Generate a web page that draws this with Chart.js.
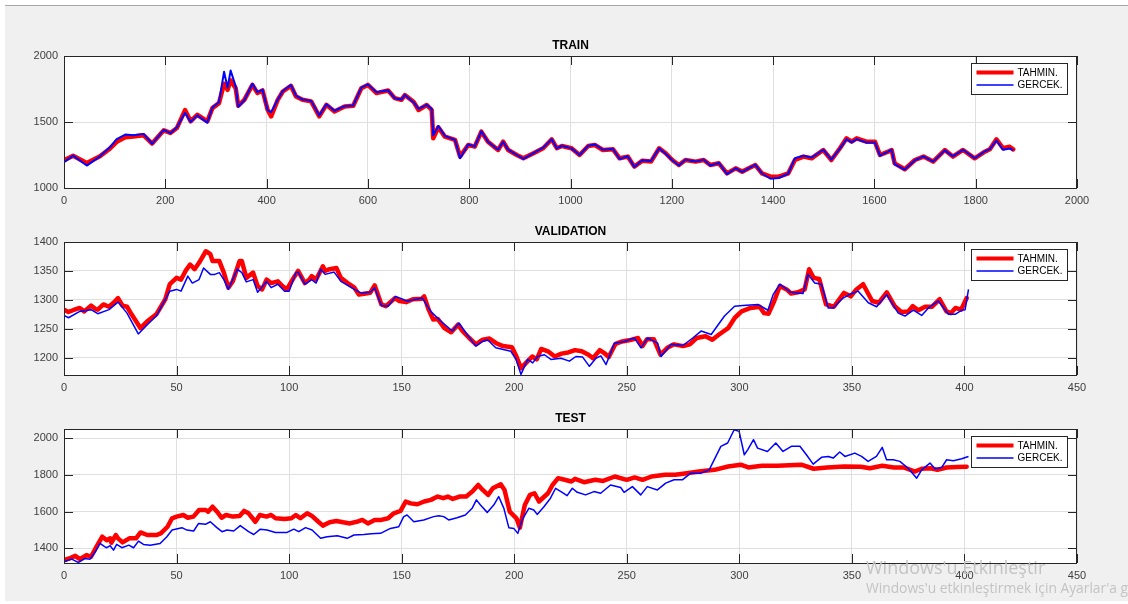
<!DOCTYPE html>
<html>
<head>
<meta charset="utf-8">
<script src="https://cdn.jsdelivr.net/npm/chart.js@4.4.1/dist/chart.umd.min.js"></script>
<style>
  html, body { margin: 0; padding: 0; background: #ffffff; width: 1128px; height: 604px; overflow: hidden; position: relative; font-family: "Liberation Sans", Arial, sans-serif; }
  #fig { position: absolute; left: 5px; top: 5px; width: 1123px; height: 595px; background: #f0f0f0; border-top: 1px solid #a8a8a8; }
  canvas { position: absolute; left: 0; }
  #wm { position: absolute; left: 866px; top: 555px; width: 262px; overflow: hidden; white-space: nowrap; color: #c3c3c3; font-family: "Open Sans", "Noto Sans", sans-serif; }
  #wm .l1 { font-size: 18px; line-height: 24px; }
  #wm .l2 { font-size: 13.8px; line-height: 18px; }
</style>
</head>
<body>
<div id="fig"></div>
<canvas id="cTrain" width="1128" height="210" style="top:0px"></canvas>
<canvas id="cVal" width="1128" height="190" style="top:210px"></canvas>
<canvas id="cTest" width="1128" height="194" style="top:410px"></canvas>
<div id="wm"><div class="l1">Windows'u Etkinleştir</div><div class="l2">Windows'u etkinleştirmek için Ayarlar'a gidin.</div></div>
<script>
// ---- series names, panel titles, tick labels ----
const seriesNames = ['TAHMIN.', 'GERCEK.'];
const panelTitles = ['TRAIN', 'VALIDATION', 'TEST'];
const trainXTicks = [0, 200, 400, 600, 800, 1000, 1200, 1400, 1600, 1800, 2000];
const trainYTicks = [1000, 1500, 2000];
const valXTicks = [0, 50, 100, 150, 200, 250, 300, 350, 400, 450];
const valYTicks = [1200, 1250, 1300, 1350, 1400];
const testXTicks = [0, 50, 100, 150, 200, 250, 300, 350, 400, 450];
const testYTicks = [1400, 1600, 1800, 2000];

// ---- TRAIN (sample index, predicted, actual) ----
const trainX = [0,18,45,71,91,104,121,137,157,174,197,210,223,239,250,263,283,293,306,316,323,329,339,344,356,372,382,392,402,409,422,432,448,458,471,488,504,518,534,554,571,587,600,617,640,653,666,673,690,700,716,726,729,739,752,772,782,798,811,824,837,857,867,877,894,907,927,946,963,973,983,1002,1018,1035,1048,1064,1084,1097,1113,1126,1142,1159,1175,1188,1201,1214,1227,1247,1263,1276,1293,1309,1326,1339,1352,1365,1378,1395,1411,1430,1443,1460,1476,1499,1515,1532,1545,1555,1565,1584,1601,1611,1627,1634,1640,1660,1680,1697,1716,1739,1755,1775,1798,1818,1828,1841,1854,1867,1874];
const trainPred = [1210,1245,1190,1240,1300,1350,1385,1390,1400,1337,1437,1417,1455,1590,1505,1555,1505,1605,1643,1790,1744,1815,1756,1623,1668,1781,1719,1739,1593,1543,1668,1731,1774,1693,1668,1656,1543,1630,1580,1618,1623,1756,1781,1719,1739,1681,1668,1704,1654,1591,1629,1591,1376,1460,1389,1364,1238,1326,1313,1427,1351,1288,1351,1288,1250,1225,1263,1301,1369,1301,1318,1301,1250,1318,1326,1288,1293,1225,1238,1162,1207,1200,1301,1263,1212,1174,1212,1200,1212,1174,1187,1111,1149,1124,1149,1174,1111,1086,1086,1111,1212,1238,1225,1288,1212,1301,1376,1351,1376,1351,1351,1250,1275,1288,1187,1142,1212,1238,1200,1288,1238,1288,1225,1275,1293,1369,1301,1313,1293];
const trainTrue = [1195,1245,1170,1240,1310,1370,1405,1400,1410,1335,1440,1415,1460,1570,1500,1550,1495,1610,1650,1880,1760,1890,1770,1615,1665,1790,1725,1745,1590,1575,1670,1735,1780,1700,1670,1660,1550,1635,1585,1620,1625,1760,1785,1725,1740,1680,1670,1705,1650,1600,1630,1600,1400,1470,1395,1365,1225,1330,1315,1430,1350,1290,1350,1290,1250,1220,1265,1305,1370,1300,1320,1300,1250,1320,1330,1290,1295,1220,1240,1160,1210,1205,1300,1260,1210,1170,1215,1200,1215,1170,1190,1105,1150,1120,1150,1175,1110,1070,1075,1110,1225,1245,1230,1290,1215,1300,1370,1345,1370,1345,1345,1245,1275,1290,1180,1140,1210,1240,1200,1285,1240,1290,1225,1278,1295,1360,1290,1300,1285];

// ---- VALIDATION ----
const valPredX = [0,2,4,7,9,12,14,15,17.5,20,22,24,26,28,30,34,37,41,45,47,50,52,54,56,58,60,63,65,66,69,71,73,75,78,79,81,84,86,88,90,92,95,97,99,102,104,107,109,110,112,115,116,118,121,123,126,129,131,134,136,138,141,143,147,149,152,155,159,160,162,164,166,169,172,175,177,180,183,186,189,192,195,199,201,203,206,208,210,212,215,218,221,224,227,230,233,235,238,240,242,245,248,251,255,257,259,262,265,268,271,275,278,281,285,288,291,295,298,301,305,309,311,313,315.5,318,321,323,326,329,331,333,335.5,338.5,342,346.5,349.5,352,355,359,362,365.5,369,372,375,377,379.5,382.5,385.5,389,392,394,396,398.5,401];
const valPred = [1283,1279,1282,1286,1280,1290,1284,1283,1292,1288,1295,1303,1290,1288,1275,1251,1263,1275,1301,1327,1338,1335,1350,1361,1353,1364,1384,1379,1367,1367,1347,1321,1332,1367,1367,1338,1347,1324,1318,1335,1329,1332,1324,1318,1338,1350,1329,1335,1341,1335,1358,1350,1353,1355,1338,1329,1321,1309,1311,1312,1325,1292,1289,1303,1298,1296,1301,1302,1306,1283,1266,1267,1251,1244,1257,1246,1234,1223,1231,1233,1225,1220,1218,1202,1182,1194,1202,1197,1215,1211,1202,1207,1209,1213,1211,1205,1199,1213,1208,1201,1224,1228,1230,1234,1220,1232,1232,1205,1217,1223,1220,1223,1234,1237,1231,1240,1251,1269,1280,1286,1288,1277,1276,1298,1324,1318,1311,1313,1318,1353,1338,1336,1292,1288,1312,1306,1318,1327,1298,1295,1313,1289,1279,1280,1289,1282,1288,1288,1301,1280,1277,1286,1283,1303];
const valTrueX = [0,2,7,12,15,20,24,28,33,37,41,47,50,52,55,57,60,62,65,67,69,71,73,77,79,81,84,86,89,90,92,95,98,100,103,104,107,110,112,114,116,120,123,129,132,136,138,141,144,147.3,152.5,159.2,162.9,166.6,172.5,175.5,178.5,182.9,185.9,188.1,191.8,198.5,200.8,203,206,208.2,210.4,213.4,216.3,220.8,224.5,227.4,230.4,233.4,236.3,238.5,240.8,244.5,248.9,253.4,256.3,259.3,263.7,265.2,269.7,274.9,279.3,283,287.5,293.4,297.9,301.6,308.3,312.7,315,318,322.8,328.3,330.5,333.5,336.5,339.5,341.7,346.1,349.9,352.8,357.3,361,365.4,370.6,373.6,377.3,381,384,388.4,392.9,395.9,398.8,400.3,401.8];
const valTrue = [1273,1269,1280,1283,1276,1283,1296,1277,1241,1257,1272,1315,1318,1315,1341,1329,1335,1355,1344,1344,1347,1335,1318,1353,1347,1331,1335,1313,1327,1332,1321,1327,1315,1315,1347,1348,1327,1335,1329,1353,1344,1348,1332,1318,1312,1313,1321,1290,1289,1306,1298,1303,1280,1266,1246,1260,1243,1220,1228,1231,1217,1211,1197,1171,1197,1191,1202,1205,1197,1199,1194,1202,1201,1185,1199,1203,1188,1225,1228,1234,1217,1234,1225,1202,1223,1221,1234,1246,1240,1272,1289,1290,1292,1282,1309,1327,1313,1311,1344,1329,1327,1286,1286,1303,1311,1315,1295,1288,1309,1277,1272,1282,1273,1286,1298,1275,1275,1282,1283,1318];

// ---- TEST ----
const testPredX = [0,3,5,7,10,12,14,17,19,20.5,21,23,24,26,29,32,34,37,41,43,46,48,50,53,55,57.5,60,63,64,66,68,70,72,75,78,80,82,85,87,90,92,94,98,101,103,105,108,110,113,115,118,121,124,127,130,132.5,135,138,141,144,146.5,149.5,151.8,154,157,160,163,166,168.5,170.5,172.7,175.7,178.7,181.7,184,186,188.4,190.5,194,195.7,198,201,202.5,204.7,207,209,211,215,217,219.5,222.4,225.4,227,231,236,239.5,244.7,250,253.5,257,261,267,271.5,276.7,282,289,295,300.6,304,310,317,327.5,333,339,346.5,354,358,363.5,368.6,373,376,378,381,385,388,392,396.5,401];
const testPred = [1336,1349,1360,1342,1364,1355,1400,1464,1445,1455,1431,1473,1455,1433,1455,1455,1487,1473,1473,1482,1518,1564,1573,1582,1567,1573,1609,1609,1600,1627,1600,1567,1582,1573,1576,1604,1591,1545,1582,1573,1582,1564,1560,1564,1582,1564,1591,1578,1545,1524,1542,1549,1542,1536,1545,1555,1536,1555,1555,1564,1591,1604,1655,1645,1640,1655,1664,1682,1673,1682,1669,1682,1682,1713,1745,1718,1691,1727,1749,1718,1600,1564,1513,1636,1691,1700,1655,1700,1745,1782,1773,1764,1778,1760,1773,1767,1791,1773,1786,1773,1791,1800,1800,1809,1818,1827,1845,1855,1840,1849,1849,1855,1833,1840,1845,1844,1836,1849,1840,1840,1827,1818,1833,1836,1827,1840,1842,1844];
const testTrueX = [0,3.4,6.4,9.3,11.6,13.9,16,18.2,19,20.5,22,23.4,25.7,28.8,30.9,33.1,35.3,38.3,42.7,45.7,48,52.4,54.6,57.6,59.8,62.8,65,67.9,70.2,72.4,75.4,78.3,82,84.3,87.2,90.2,93.9,99.1,102.1,104.3,107.3,110.2,114,116.9,121.4,125.8,128.8,133.2,136.5,140.6,145,148.7,150.9,152.4,155.4,159.8,164.2,166.5,168.7,170.9,174.6,178.3,181.3,183.2,185,188,190.9,193.1,195.4,197.6,199.8,201.6,203.5,206.5,208.7,210.2,213.2,216.1,218.4,221.3,223.5,225.8,228,231.7,235.4,238.4,242.8,247.3,248.8,252.5,256.2,259.1,263.6,267.3,271,274.7,278.4,282.9,286.6,291.8,294.8,297.7,299.9,302.2,303.7,306.3,308.1,312.5,316.2,319.4,323.1,326.9,329.8,332.8,336.5,339.5,341.7,344.6,346.9,351.3,354.3,357.2,360.9,363.5,365.4,368.4,371.3,375,378.8,381,384.7,386.9,389.9,392.1,395.1,398.8,401.8];
const testTrue = [1327,1342,1324,1345,1342,1382,1427,1409,1404,1415,1391,1422,1404,1418,1404,1440,1422,1418,1427,1464,1500,1513,1500,1495,1536,1531,1545,1513,1491,1500,1495,1524,1491,1476,1505,1500,1487,1487,1505,1491,1513,1500,1455,1464,1469,1455,1473,1476,1480,1482,1509,1518,1573,1582,1545,1555,1573,1578,1573,1555,1567,1582,1618,1664,1636,1596,1636,1682,1618,1513,1509,1482,1555,1618,1609,1585,1627,1673,1727,1705,1687,1727,1705,1691,1709,1700,1745,1731,1705,1736,1691,1736,1718,1755,1773,1773,1809,1809,1827,1955,1973,2045,2036,1909,1936,1991,1945,1927,1973,1927,1955,1955,1909,1858,1895,1900,1891,1924,1900,1918,1900,1873,1900,1949,1882,1882,1873,1836,1782,1827,1864,1833,1840,1882,1876,1887,1900];

// ---- drawing helpers ----
const FONT = '"Liberation Sans", Arial, Helvetica, sans-serif';
const AXIS_COLOR = '#262626';
const GRID_COLOR = '#dfdfdf';
const TICK_LEN = 9;

function points(xs, ys) {
  return xs.map((x, i) => ({ x: x, y: ys[i] }));
}

// axes box, inward tick marks on all four sides, panel title and legend
const matlabAxes = {
  id: 'matlabAxes',
  beforeDraw(chart) {
    const a = chart.chartArea, ctx = chart.ctx;
    ctx.save();
    ctx.fillStyle = '#ffffff';
    ctx.fillRect(a.left, a.top, a.right - a.left, a.bottom - a.top);
    ctx.restore();
  },
  afterDatasetsDraw(chart, args, opts) {
    const a = chart.chartArea, ctx = chart.ctx;
    const xs = chart.scales.x, ys = chart.scales.y;
    ctx.save();
    ctx.strokeStyle = AXIS_COLOR;
    ctx.lineWidth = 1;
    ctx.beginPath();
    xs.ticks.forEach(t => {
      const px = Math.round(xs.getPixelForValue(t.value)) + 0.5;
      ctx.moveTo(px, a.bottom); ctx.lineTo(px, a.bottom - TICK_LEN);
      ctx.moveTo(px, a.top); ctx.lineTo(px, a.top + TICK_LEN);
    });
    ys.ticks.forEach(t => {
      const py = Math.round(ys.getPixelForValue(t.value)) + 0.5;
      ctx.moveTo(a.left, py); ctx.lineTo(a.left + TICK_LEN, py);
      ctx.moveTo(a.right, py); ctx.lineTo(a.right - TICK_LEN, py);
    });
    ctx.stroke();
    ctx.strokeRect(a.left + 0.5, a.top + 0.5, a.right - a.left - 1, a.bottom - a.top);

    // title
    ctx.fillStyle = '#000000';
    ctx.font = 'bold 12px ' + FONT;
    ctx.textAlign = 'center';
    ctx.textBaseline = 'middle';
    ctx.fillText(opts.title, (a.left + a.right) / 2, a.top - 10);

    // legend
    const lw = 96, lh = 31;
    const lx = Math.round(a.right - 106) + 0.5, ly = Math.round(a.top + 7) + 0.5;
    ctx.fillStyle = '#ffffff';
    ctx.fillRect(lx, ly, lw, lh);
    ctx.strokeStyle = AXIS_COLOR;
    ctx.lineWidth = 1;
    ctx.strokeRect(lx, ly, lw, lh);
    chart.data.datasets.forEach((ds, i) => {
      const ry = ly + 9 + i * 12.5;
      ctx.strokeStyle = ds.borderColor;
      ctx.lineWidth = i === 0 ? 4 : 1.5;
      ctx.beginPath();
      ctx.moveTo(lx + 5, ry); ctx.lineTo(lx + 42, ry);
      ctx.stroke();
      ctx.fillStyle = '#000000';
      ctx.font = '10px ' + FONT;
      ctx.textAlign = 'left';
      ctx.textBaseline = 'middle';
      ctx.fillText(ds.label, lx + 46, ry + 0.5);
    });
    ctx.restore();
  }
};

function makePanel(canvasId, spec) {
  const tickFont = { family: FONT, size: 11 };
  return new Chart(document.getElementById(canvasId), {
    type: 'line',
    data: {
      datasets: [
        { label: seriesNames[0], data: points(spec.predX, spec.pred), borderColor: '#ff0000', borderWidth: 4.5,
          pointRadius: 0, tension: 0, borderJoinStyle: 'round', borderCapStyle: 'round', order: 1 },
        { label: seriesNames[1], data: points(spec.trueX, spec.actual), borderColor: '#0000ff', borderWidth: spec.blueWidth,
          pointRadius: 0, tension: 0, borderJoinStyle: 'round', order: 0 }
      ]
    },
    options: {
      responsive: false,
      animation: false,
      devicePixelRatio: 1,
      layout: { padding: { left: 0, right: 51, top: spec.padTop, bottom: 0 } },
      plugins: {
        legend: { display: false },
        title: { display: false },
        tooltip: { enabled: false },
        matlabAxes: { title: spec.title }
      },
      scales: {
        x: {
          type: 'linear', min: spec.xMin, max: spec.xMax,
          afterBuildTicks: s => { s.ticks = spec.xTicks.map(v => ({ value: v })); },
          afterFit: s => { s.height = spec.xAxisH; },
          grid: { color: GRID_COLOR, drawTicks: false },
          border: { display: false },
          ticks: { padding: 6, color: '#404040', font: tickFont, maxRotation: 0, autoSkip: false, callback: v => String(v) }
        },
        y: {
          type: 'linear', min: spec.yMin, max: spec.yMax,
          afterBuildTicks: s => { s.ticks = spec.yTicks.map(v => ({ value: v })); },
          afterFit: s => { s.width = 64; },
          grid: { color: GRID_COLOR, drawTicks: false },
          border: { display: false },
          ticks: { padding: 6, color: '#404040', font: tickFont, callback: v => String(v) }
        }
      }
    },
    plugins: [matlabAxes]
  });
}

makePanel('cTrain', {
  title: panelTitles[0], predX: trainX, pred: trainPred, trueX: trainX, actual: trainTrue, blueWidth: 2,
  xMin: 0, xMax: 2000, yMin: 1000, yMax: 2000, xTicks: trainXTicks, yTicks: trainYTicks,
  padTop: 56, xAxisH: 22
});
makePanel('cVal', {
  title: panelTitles[1], predX: valPredX, pred: valPred, trueX: valTrueX, actual: valTrue, blueWidth: 1.5,
  xMin: 0, xMax: 450, yMin: 1170, yMax: 1400, xTicks: valXTicks, yTicks: valYTicks,
  padTop: 32, xAxisH: 25
});
makePanel('cTest', {
  title: panelTitles[2], predX: testPredX, pred: testPred, trueX: testTrueX, actual: testTrue, blueWidth: 1.5,
  xMin: 0, xMax: 450, yMin: 1321, yMax: 2049, xTicks: testXTicks, yTicks: testYTicks,
  padTop: 19, xAxisH: 41
});
</script>
</body>
</html>
